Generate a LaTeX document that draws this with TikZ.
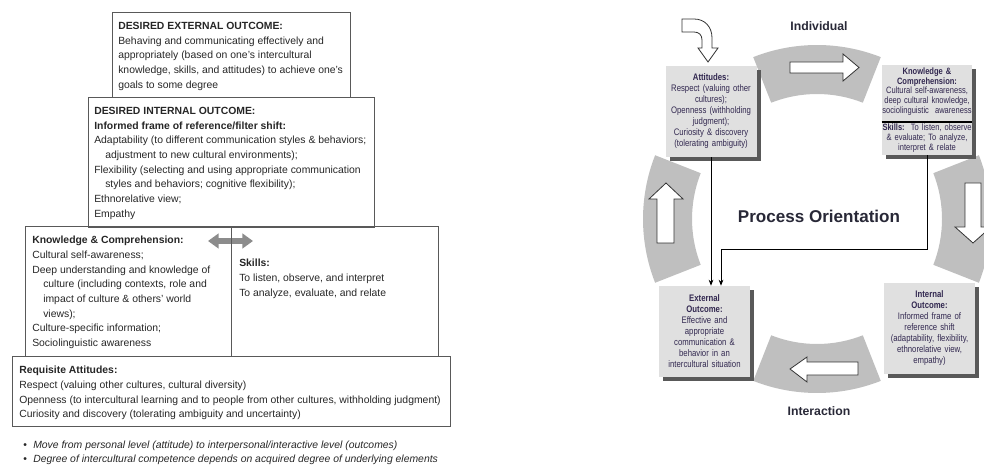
\documentclass[tikz,border=0pt]{standalone}
\usepackage{fontspec}
\setmainfont{Liberation Sans}
\newfontfamily\condfont[FakeStretch=0.82]{Liberation Sans}
\usepackage{xcolor}
\usetikzlibrary{arrows.meta,positioning,calc,shadows}
\definecolor{boxtext}{RGB}{50,40,80}
\definecolor{titletext}{RGB}{40,40,55}

\begin{document}
\begin{tikzpicture}[x=0.75pt, y=-0.75pt,
    box/.style={draw=black!65, line width=0.75pt, inner sep=0pt},
    txt/.style={anchor=north west, inner sep=0pt, align=left, text=black!85, font=\fontsize{7.8}{11}\selectfont},
    sbox/.style={fill=black!12, inner sep=0pt, text width=64pt, align=center, text=boxtext, minimum width=68.25pt, minimum height=68.25pt, font=\condfont\fontsize{7.1}{8.25}\selectfont, drop shadow={shadow xshift=3pt, shadow yshift=-3pt, fill=black!65, opacity=1}},
    arr/.style={-{Stealth[length=4.5pt, width=3.5pt]}, line width=0.6pt, black},
    dblarr/.style={{Triangle[length=8pt, width=11pt]}-{Triangle[length=8pt, width=11pt]}, line width=5pt, black!45},
    ring/.style={fill=black!25},
    blockarr/.style={fill=white, draw=black!80, line width=0.6pt, line join=miter},
    ttl/.style={font=\bfseries\fontsize{9.2}{11}\selectfont, text=titletext},
]
\useasboundingbox (0,0) rectangle (984,466);
\clip (0,0) rectangle (984,466);

% Pyramid boxes
\node[box, minimum width=178.5pt, minimum height=63.75pt] (ext) at (231,55.5) {};
\node[box, minimum width=214.5pt, minimum height=97.5pt] (int) at (231,163) {};
\node[box, minimum width=154.5pt, minimum height=96.75pt] (know) at (128,291.5) {};
\node[box, minimum width=155.25pt, minimum height=96.75pt] (skl) at (334.5,291.5) {};
\node[box, minimum width=328.5pt, minimum height=52.5pt] (attl) at (231,391) {};

\node[txt] (exttxt) at (118,22) {\textbf{DESIRED EXTERNAL OUTCOME:}\\
Behaving and communicating effectively and\\
appropriately (based on one's intercultural\\
knowledge, skills, and attitudes) to achieve one's\\
goals to some degree};
\node[txt] (inttxt) at (94,107) {\textbf{DESIRED INTERNAL OUTCOME:}\\
\textbf{Informed frame of reference/filter shift:}\\
Adaptability (to different communication styles \& behaviors;\\
\hspace*{8.25pt}adjustment to new cultural environments);\\
Flexibility (selecting and using appropriate communication\\
\hspace*{8.25pt}styles and behaviors; cognitive flexibility);\\
Ethnorelative view;\\
Empathy};
\node[txt] (knowtxt) at (32,236) {\textbf{Knowledge \& Comprehension:}\\
Cultural self-awareness;\\
Deep understanding and knowledge of\\
\hspace*{8.25pt}culture (including contexts, role and\\
\hspace*{8.25pt}impact of culture \& others' world\\
\hspace*{8.25pt}views);\\
Culture-specific information;\\
Sociolinguistic awareness};
\node[txt] (skltxt) at (239,259) {\textbf{Skills:}\\
To listen, observe, and interpret\\
To analyze, evaluate, and relate};
\node[txt] (atttxt) at (19,366) {\textbf{Requisite Attitudes:}\\
Respect (valuing other cultures, cultural diversity)\\
Openness (to intercultural learning and to people from other cultures, withholding judgment)\\
Curiosity and discovery (tolerating ambiguity and uncertainty)};
\node[txt, font=\fontsize{7.8}{10.5}\selectfont] (notes) at (23,441) {\makebox[7.5pt][l]{\textbullet}\textit{Move from personal level (attitude) to interpersonal/interactive level (outcomes)}\\
\makebox[7.5pt][l]{\textbullet}\textit{Degree of intercultural competence depends on acquired degree of underlying elements}};

% Double arrow between knowledge and skills
\coordinate (dl) at (208,241);
\coordinate (dr) at (253,241);
\draw[dblarr] (dl) -- (dr);
\draw[draw=black!65, line width=0.75pt] (know.north east) -- (know.south east);

% Process cycle
\foreach \a in {0,90,180,270}
  \fill[ring, shift={(817,219)}] ({\a-21.5}:174) arc[start angle=\a-21.5, end angle=\a+21.5, radius=174] -- ({\a+21.5}:125) arc[start angle=\a+21.5, end angle=\a-21.5, radius=125] -- cycle;

\draw[blockarr] (790,62) -- (843,62) -- (843,54) -- (859,67.5) -- (843,81) -- (843,73) -- (790,73) -- cycle;
\draw[blockarr] (965,183) -- (981,183) -- (981,227) -- (991,227) -- (973,243) -- (955,227) -- (965,227) -- cycle;
\draw[blockarr] (858,362) -- (858,375) -- (807,375) -- (807,382) -- (790,369) -- (807,357) -- (807,362) -- cycle;
\draw[blockarr] (657,243) -- (657,199) -- (649,199) -- (666,183) -- (683,199) -- (674,199) -- (674,243) -- cycle;
\draw[blockarr] (682,19) -- (694,19) .. controls (705,19) and (712,27) .. (712,38) -- (712,48) -- (718,48) -- (708,62) -- (698,48) -- (702,48) -- (702,40) .. controls (702,35) and (699,32) .. (694,32) -- (682,32) -- cycle;

\node[ttl] (indiv) at (819,26) {Individual};
\node[ttl] (inter) at (819,411) {Interaction};
\node[ttl, font=\bfseries\fontsize{12.8}{14}\selectfont] (proc) at (819,216) {Process Orientation};

% Cycle boxes
\node[sbox] (att) at (711,111.5) {\textbf{Attitudes:}\\Respect (valuing other\\cultures);\\Openness (withholding\\judgment);\\Curiosity \& discovery\\(tolerating ambiguity)};
\node[sbox, text width=67pt, minimum width=67.5pt, minimum height=67.5pt, font=\condfont\fontsize{6.9}{7.3}\selectfont] (kno) at (927,110) {\textbf{Knowledge \&}\\\textbf{Comprehension:}\\Cultural self-awareness,\\deep cultural knowledge,\\sociolinguistic\ \ awareness\\[6pt]\textbf{Skills:}\ \ To listen, observe\\\& evaluate; To analyze,\\interpret \& relate};
\draw[line width=1.5pt] ([yshift=-9pt]kno.west) -- ([yshift=-9pt]kno.east);
\node[sbox] (out) at (704.5,331.5) {\textbf{External}\\\textbf{Outcome:}\\Effective and\\appropriate\\communication \&\\behavior in an\\intercultural situation};
\node[sbox] (inn) at (929.5,328.5) {\textbf{Internal}\\\textbf{Outcome:}\\Informed frame of\\reference shift\\(adaptability, flexibility,\\ethnorelative view,\\empathy)};

% Arrows
\coordinate (bend) at (721,249);
\draw[arr] (att.south) -- (att.south |- out.north);
\draw[arr] (kno.south) |- (bend) -- (bend |- out.north);
\end{tikzpicture}
\end{document}
